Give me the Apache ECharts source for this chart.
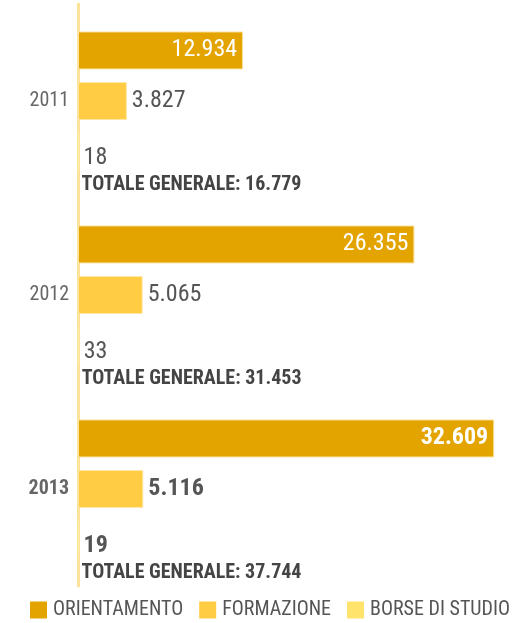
<!DOCTYPE html>
<html>
<head>
<meta charset="utf-8">
<script src="https://cdn.jsdelivr.net/npm/echarts@6/dist/echarts.min.js"></script>
<style>html,body{margin:0;padding:0;background:#fff;}#c{width:515px;height:623px;}</style>
</head>
<body>
<div id="c"></div>
<script>
var years = ['2011', '2012', '2013'];
var orientamento = [12934, 26355, 32609];
var formazione = [3827, 5065, 5116];
var borseDiStudio = [18, 33, 19];
var totali = [16779, 31453, 37744];
var seriesNames = ['ORIENTAMENTO', 'FORMAZIONE', 'BORSE DI STUDIO'];

var FONT = "'Liberation Sans Narrow', 'Roboto Condensed', 'DejaVu Sans Condensed', Roboto, sans-serif";
function fmt(v) { return String(v).replace(/\B(?=(\d{3})+(?!\d))/g, '.'); }
var boldIdx = 2;

var chart = echarts.init(document.getElementById('c'));
function mkData(arr) {
  return arr.map(function (v, i) {
    return { value: v, label: { fontWeight: i === boldIdx ? 'bold' : 'normal' } };
  });
}
function richV(bold) {
  return { fontSize: 24, color: '#555', fontFamily: FONT, lineHeight: 30, padding: [0, 0, 0, 2], fontWeight: bold ? 'bold' : 'normal' };
}
var richT = { fontSize: 20, color: '#444', fontWeight: 'bold', fontFamily: FONT, lineHeight: 24 };
chart.setOption({
  animation: false,
  textStyle: { fontFamily: FONT },
  grid: { left: 78, right: 3, top: 4, bottom: 37, containLabel: false },
  legend: {
    top: 600, left: 30, width: 485, padding: 0,
    itemWidth: 17, itemHeight: 17, itemGap: 16,
    icon: 'rect',
    itemStyle: { borderWidth: 0 },
    textStyle: { fontFamily: FONT, fontSize: 20, color: '#555', padding: [0, 0, 0, 1] },
    data: seriesNames
  },
  xAxis: { type: 'value', min: 0, max: 34000, show: false },
  yAxis: {
    type: 'category', inverse: true, data: years.map(function (y, i) {
      return { value: y, textStyle: { fontWeight: i === boldIdx ? 'bold' : 'normal' } };
    }),
    axisLine: { show: true, lineStyle: { color: '#FDE39A', width: 3 } },
    axisTick: { show: false },
    axisLabel: { fontFamily: FONT, fontSize: 20, color: '#666', margin: 9 }
  },
  series: [
    {
      name: seriesNames[0], type: 'bar', barWidth: 38, barGap: '33%',
      data: mkData(orientamento),
      itemStyle: { color: '#E3A400', borderColor: '#FBE3A0', borderWidth: 1 },
      label: {
        show: true, position: 'insideRight', color: '#fff', fontSize: 24, fontFamily: FONT,
        distance: 6, formatter: function (p) { return fmt(p.value); }
      }
    },
    {
      name: seriesNames[1], type: 'bar', barWidth: 38,
      data: mkData(formazione),
      itemStyle: { color: '#FFCC44', borderColor: '#FEE6A6', borderWidth: 1 },
      label: {
        show: true, position: 'right', color: '#555', fontSize: 24, fontFamily: FONT,
        distance: 5, formatter: function (p) { return fmt(p.value); }
      }
    },
    {
      name: seriesNames[2], type: 'bar', barWidth: 38,
      data: borseDiStudio.map(function (v, i) {
        return { value: v, label: { rich: { v: richV(i === boldIdx), t: richT } } };
      }),
      itemStyle: { color: '#FFE36B', borderColor: '#FEEBA8', borderWidth: 1 },
      label: {
        show: true, position: 'right', color: '#555', fontFamily: FONT,
        distance: 3, offset: [0, 18], align: 'left',
        formatter: function (p) {
          return '{v|' + fmt(p.value) + '}\n{t|TOTALE GENERALE: ' + fmt(totali[p.dataIndex]) + '}';
        },
        rich: { v: richV(false), t: richT }
      }
    }
  ]
});
</script>
</body>
</html>
